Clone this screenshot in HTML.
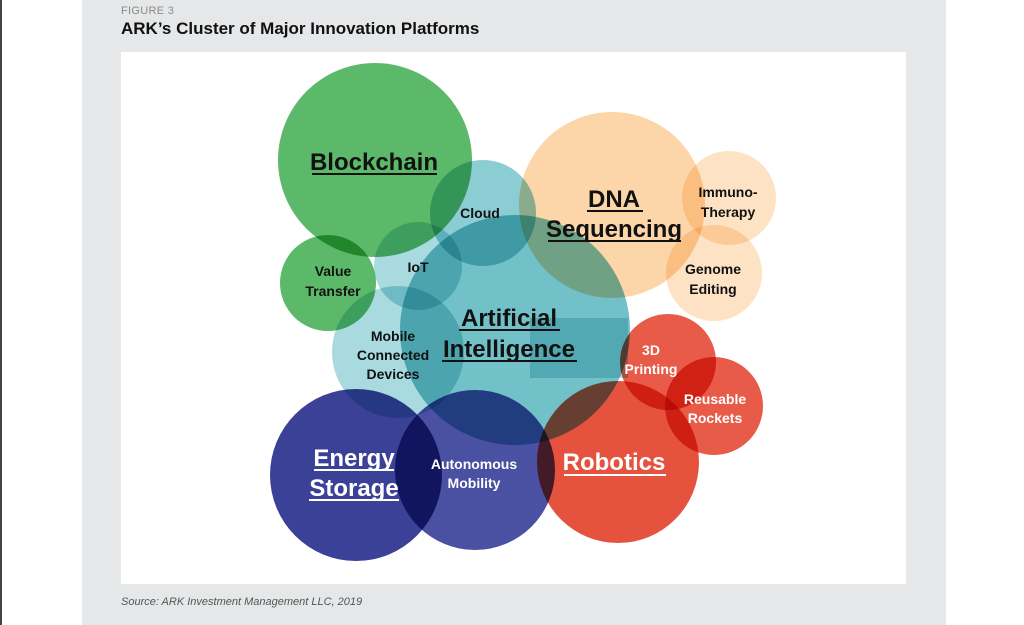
<!DOCTYPE html>
<html><head><meta charset="utf-8"><style>
html,body{margin:0;padding:0;background:#fff;width:1024px;height:625px;overflow:hidden;font-family:"Liberation Sans",sans-serif}
#edge{position:absolute;left:0;top:0;width:2px;height:625px;background:#444}
#panel{position:absolute;left:82px;top:0;width:864px;height:625px;background:#e6e7e8}
#box{position:absolute;left:121px;top:52px;width:785px;height:532px;background:#fff}
.t1{position:absolute;left:121px;top:5px;font-size:11px;color:#8a8a8a;letter-spacing:.3px}
.t2{position:absolute;left:121px;top:19px;font-size:17px;font-weight:bold;color:#111}
.src{position:absolute;left:121px;top:596px;font-size:11px;font-style:italic;color:#555}
svg{position:absolute;left:0;top:0}
svg text{font-family:"Liberation Sans",sans-serif;font-weight:bold;text-anchor:middle}
.m{mix-blend-mode:multiply}
</style></head><body>
<div id="edge"></div>
<div id="panel"></div>
<div id="box"></div>
<div class="t1">FIGURE 3</div>
<div class="t2">ARK’s Cluster of Major Innovation Platforms</div>
<svg width="1024" height="625" viewBox="0 0 1024 625">
<circle class="m" cx="612" cy="205" r="93" fill="#fcd6a8"/>
<circle class="m" cx="729" cy="198" r="47" fill="#fde3c4"/>
<circle class="m" cx="714" cy="273" r="48" fill="#fde3c4"/>
<circle class="m" cx="375" cy="160" r="97" fill="#5cb96a"/>
<circle class="m" cx="328" cy="283" r="48" fill="#5cb96a"/>
<circle class="m" cx="515" cy="330" r="115" fill="#72c0c8"/>
<rect class="m" x="530" y="318" width="98" height="60" fill="#b8e0e4"/>
<circle class="m" cx="483" cy="213" r="53" fill="#8ccdd4"/>
<circle class="m" cx="418" cy="266" r="44" fill="#a9dadf"/>
<circle class="m" cx="398" cy="352" r="66" fill="#a9dadf"/>
<circle class="m" cx="356" cy="475" r="86" fill="#3a4196"/>
<circle class="m" cx="475" cy="470" r="80" fill="#4a50a2"/>
<circle class="m" cx="618" cy="462" r="81" fill="#e5533f"/>
<circle class="m" cx="668" cy="362" r="48" fill="#e75b48"/>
<circle class="m" cx="714" cy="406" r="49" fill="#e75b48"/>
<g fill="#111">
<text x="374" y="170" font-size="24">Blockchain</text>
<rect x="312" y="173" width="125" height="2"/>
<text x="614" y="207" font-size="24">DNA</text>
<rect x="587" y="210" width="56" height="2"/>
<text x="614" y="237" font-size="24">Sequencing</text>
<rect x="548" y="240" width="133" height="2"/>
<text x="509" y="326" font-size="24">Artificial</text>
<rect x="459" y="329" width="101" height="2"/>
<text x="509" y="357" font-size="24">Intelligence</text>
<rect x="442" y="360" width="135" height="2"/>
<text x="480" y="218" font-size="14">Cloud</text>
<text x="418" y="272" font-size="14">IoT</text>
<text x="333" y="276" font-size="14">Value</text>
<text x="333" y="296" font-size="14">Transfer</text>
<text x="393" y="341" font-size="14">Mobile</text>
<text x="393" y="360" font-size="14">Connected</text>
<text x="393" y="379" font-size="14">Devices</text>
<text x="728" y="197" font-size="14">Immuno-</text>
<text x="728" y="217" font-size="14">Therapy</text>
<text x="713" y="274" font-size="14">Genome</text>
<text x="713" y="294" font-size="14">Editing</text>
</g>
<g fill="#fff">
<text x="354" y="466" font-size="24">Energy</text>
<rect x="314" y="469" width="80" height="2"/>
<text x="354" y="496" font-size="24">Storage</text>
<rect x="309" y="499" width="90" height="2"/>
<text x="474" y="469" font-size="14">Autonomous</text>
<text x="474" y="488" font-size="14">Mobility</text>
<text x="614" y="470" font-size="24">Robotics</text>
<rect x="564" y="474" width="102" height="2"/>
<text x="651" y="355" font-size="14">3D</text>
<text x="651" y="374" font-size="14">Printing</text>
<text x="715" y="404" font-size="14">Reusable</text>
<text x="715" y="423" font-size="14">Rockets</text>
</g>
</svg>
<div class="src">Source: ARK Investment Management LLC, 2019</div>
</body></html>
